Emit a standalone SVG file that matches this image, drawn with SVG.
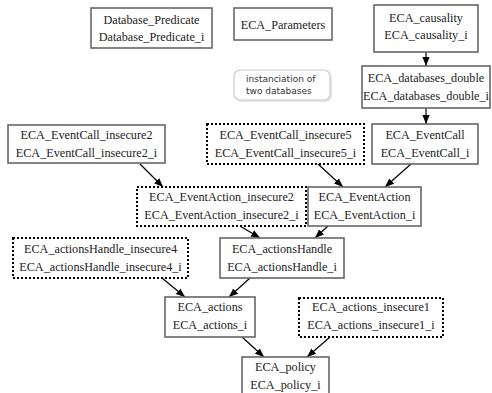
<svg xmlns="http://www.w3.org/2000/svg" width="492" height="393" viewBox="0 0 492 393">
<defs>
<marker id="ah" viewBox="0 0 10 10" refX="10" refY="5" markerWidth="9" markerHeight="9" markerUnits="userSpaceOnUse" orient="auto">
<path d="M0,1 L10,5 L0,9 z" fill="#000"/>
</marker>
<style>
.box{fill:#fff;stroke:#666;stroke-width:1.6}
.dot{fill:#fff;stroke:#000;stroke-width:2;stroke-dasharray:2,2}
.t{font-family:"Liberation Serif","Times New Roman",serif;font-size:12.2px;fill:#222;text-anchor:middle}
.note{fill:#fff;stroke:#ccc;stroke-width:1.2}
.nt{font-family:"DejaVu Sans","Liberation Sans",sans-serif;font-size:9px;fill:#333}
.e{stroke:#000;stroke-width:1.2;fill:none;marker-end:url(#ah)}
</style>
</defs>
<rect width="492" height="393" fill="#fff"/>
<g id="connectors">
<line class="e" x1="426" y1="52" x2="426" y2="66"/>
<line class="e" x1="426" y1="108" x2="426" y2="124"/>
<line class="e" x1="140" y1="164" x2="163" y2="187"/>
<line class="e" x1="318" y1="164" x2="343" y2="187"/>
<line class="e" x1="411" y1="164" x2="385" y2="187"/>
<line class="e" x1="240" y1="226" x2="260" y2="238"/>
<line class="e" x1="328" y1="226" x2="315" y2="238"/>
<line class="e" x1="162" y1="278" x2="185" y2="297"/>
<line class="e" x1="250" y1="278" x2="229" y2="297"/>
<line class="e" x1="242" y1="337" x2="264" y2="357"/>
<line class="e" x1="330" y1="337" x2="307" y2="357"/>
</g>
<g id="Database_Predicate">
<rect class="box" x="91" y="8" width="121" height="40"/>
<text class="t" x="151.5" y="24">Database_Predicate</text>
<text class="t" x="151.5" y="41">Database_Predicate_i</text>
</g>
<g id="ECA_Parameters">
<rect class="box" x="234" y="8" width="98" height="32"/>
<text class="t" x="283" y="28.5">ECA_Parameters</text>
</g>
<g id="ECA_causality">
<rect class="box" x="374" y="5" width="104" height="47"/>
<text class="t" x="426" y="22">ECA_causality</text>
<text class="t" x="426" y="39">ECA_causality_i</text>
</g>
<g id="note">
<rect x="236" y="72" width="96" height="30" rx="6" fill="#e6e6e6"/>
<rect class="note" x="234" y="70" width="96" height="30" rx="6"/>
<text class="nt" x="246" y="82">instanciation of</text>
<text class="nt" x="246" y="94">two databases</text>
</g>
<g id="ECA_databases_double">
<rect class="box" x="362" y="66" width="128" height="42"/>
<text class="t" x="426" y="82">ECA_databases_double</text>
<text class="t" x="426" y="100">ECA_databases_double_i</text>
</g>
<g id="ECA_EventCall_insecure2">
<rect class="box" x="8" y="125" width="157" height="38"/>
<text class="t" x="86.5" y="139">ECA_EventCall_insecure2</text>
<text class="t" x="86.5" y="157">ECA_EventCall_insecure2_i</text>
</g>
<g id="ECA_EventCall_insecure5">
<rect class="dot" x="207" y="124" width="157" height="40"/>
<text class="t" x="285.5" y="139">ECA_EventCall_insecure5</text>
<text class="t" x="285.5" y="157">ECA_EventCall_insecure5_i</text>
</g>
<g id="ECA_EventCall">
<rect class="box" x="372" y="124" width="106" height="40"/>
<text class="t" x="425" y="139">ECA_EventCall</text>
<text class="t" x="425" y="157">ECA_EventCall_i</text>
</g>
<g id="ECA_EventAction_insecure2">
<rect class="dot" x="137" y="187" width="169" height="39"/>
<text class="t" x="221.5" y="201">ECA_EventAction_insecure2</text>
<text class="t" x="221.5" y="219">ECA_EventAction_insecure2_i</text>
</g>
<g id="ECA_EventAction">
<rect class="box" x="308" y="187" width="113" height="39"/>
<text class="t" x="364.5" y="201">ECA_EventAction</text>
<text class="t" x="364.5" y="219">ECA_EventAction_i</text>
</g>
<g id="ECA_actionsHandle_insecure4">
<rect class="dot" x="13" y="238" width="175" height="40"/>
<text class="t" x="100.5" y="253">ECA_actionsHandle_insecure4</text>
<text class="t" x="100.5" y="271">ECA_actionsHandle_insecure4_i</text>
</g>
<g id="ECA_actionsHandle">
<rect class="box" x="220" y="238" width="124" height="40"/>
<text class="t" x="282" y="253">ECA_actionsHandle</text>
<text class="t" x="282" y="271">ECA_actionsHandle_i</text>
</g>
<g id="ECA_actions">
<rect class="box" x="165" y="297" width="90" height="40"/>
<text class="t" x="210" y="311">ECA_actions</text>
<text class="t" x="210" y="329">ECA_actions_i</text>
</g>
<g id="ECA_actions_insecure1">
<rect class="dot" x="299" y="298" width="144" height="39"/>
<text class="t" x="371" y="311">ECA_actions_insecure1</text>
<text class="t" x="371" y="329">ECA_actions_insecure1_i</text>
</g>
<g id="ECA_policy">
<rect class="box" x="242" y="357" width="87" height="43"/>
<text class="t" x="285.5" y="371">ECA_policy</text>
<text class="t" x="285.5" y="389">ECA_policy_i</text>
</g>
</svg>
